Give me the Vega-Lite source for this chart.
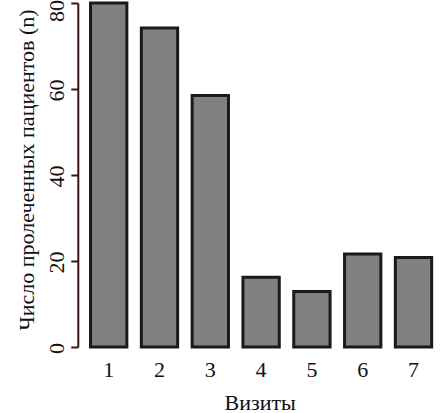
{
  "$schema": "https://vega.github.io/schema/vega-lite/v6.json",
  "autosize": "none",
  "padding": {"left": 83.3, "top": 3, "right": 4.1, "bottom": 66},
  "width": 355.6,
  "height": 344,
  "background": "white",
  "config": {
    "view": {"stroke": null},
    "font": "Liberation Serif",
    "axis": {"labelFont": "Liberation Serif", "titleFont": "Liberation Serif", "labelFontSize": 22, "titleFontSize": 22, "labelColor": "#111", "titleColor": "#111", "titleFontWeight": "normal", "grid": false}
  },
  "data": {"values": [
    {"visit": "1", "n": 80},
    {"visit": "2", "n": 74.2},
    {"visit": "3", "n": 58.5},
    {"visit": "4", "n": 16.2},
    {"visit": "5", "n": 12.9},
    {"visit": "6", "n": 21.6},
    {"visit": "7", "n": 20.8}
  ]},
  "mark": {"type": "bar", "fill": "#808080", "stroke": "#1a1a1a", "strokeWidth": 3},
  "encoding": {
    "x": {
      "field": "visit", "type": "ordinal", "sort": null,
      "scale": {"paddingInner": 0.285, "paddingOuter": 0.1425},
      "axis": {"title": "Визиты", "labelAngle": 0, "domain": false, "ticks": false, "tickSize": 0, "labelPadding": 29.7, "labelBaseline": "alphabetic", "titleBaseline": "alphabetic", "titleAnchor": "middle", "titleX": 176.4, "titleY": 62}
    },
    "y": {
      "field": "n", "type": "quantitative",
      "scale": {"domain": [0, 80], "nice": false, "zero": true},
      "axis": {"title": "Число пролеченных пациентов (n)", "values": [0, 20, 40, 60, 80], "offset": 5.5, "domain": true, "ticks": true, "tickSize": 7, "tickWidth": 2, "domainWidth": 2, "tickColor": "#3a1414", "domainColor": "#3a1414", "tickOpacity": 1, "domainOpacity": 1, "labelAngle": -90, "labelAlign": "center", "labelBaseline": "alphabetic", "labelPadding": 7, "labelOffset": {"condition": {"test": "datum.value == 80", "value": 7.5}, "value": 1}, "labelOverlap": false, "titleAngle": -90, "titleBaseline": "alphabetic", "titleAlign": "center", "titleX": -44.8, "titleY": 166.5}
    }
  }
}
